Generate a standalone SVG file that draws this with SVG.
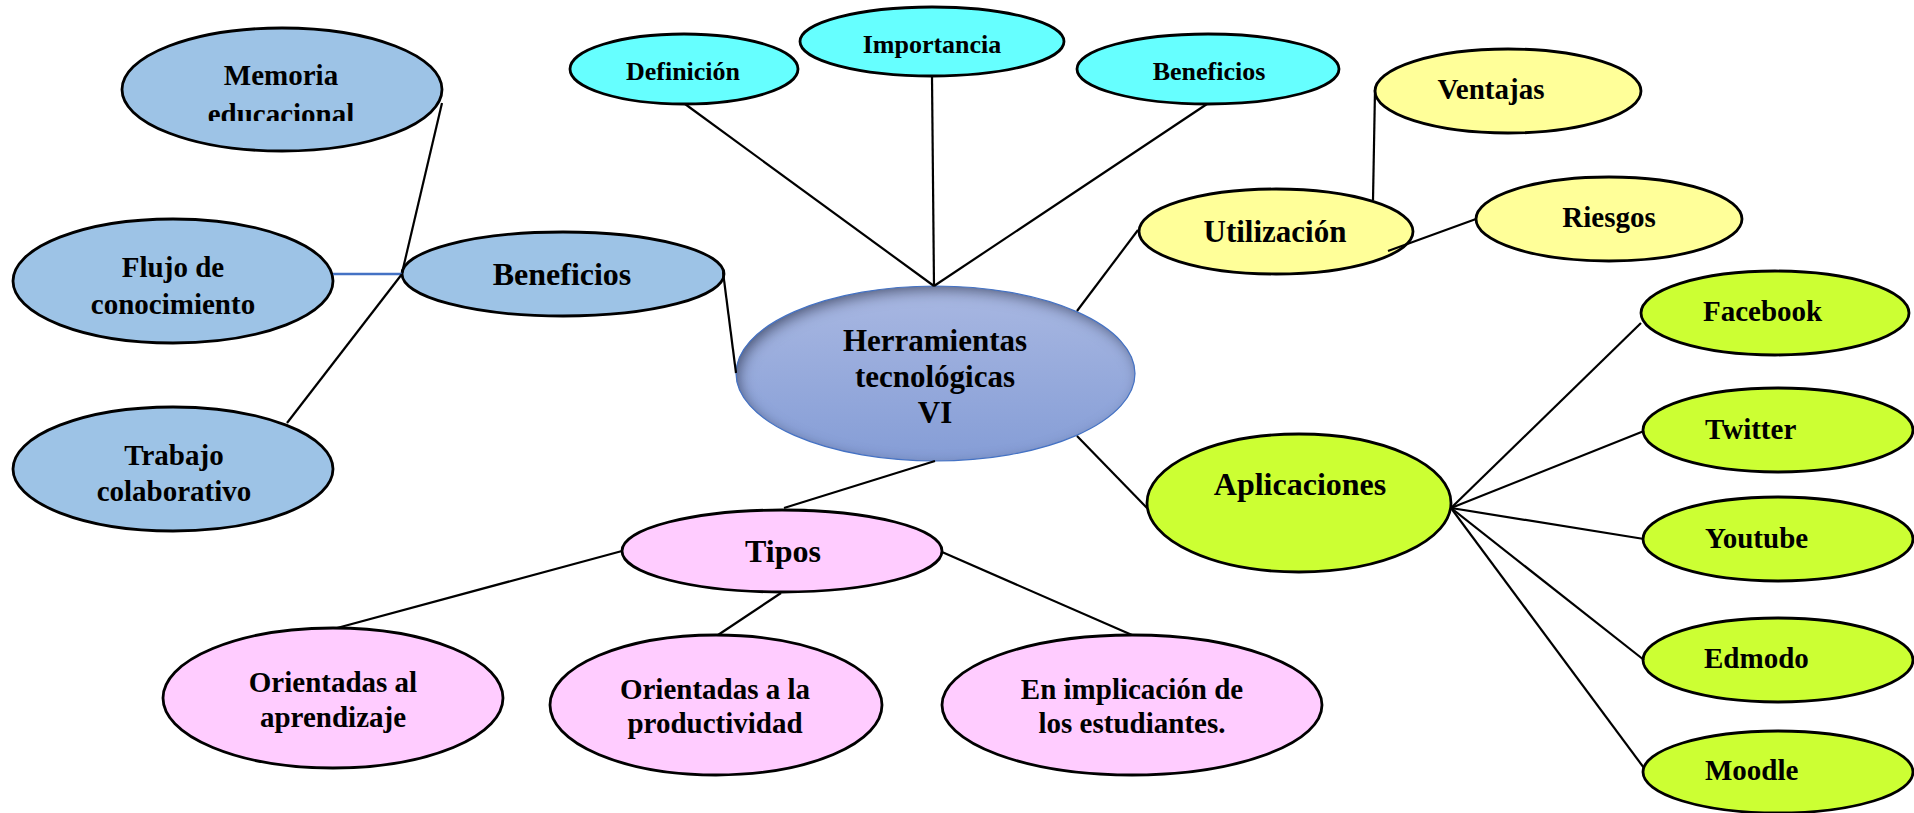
<svg xmlns="http://www.w3.org/2000/svg" width="1914" height="813" viewBox="0 0 1914 813">
<style>
.n{stroke:#000;stroke-width:2.8}
.blue{fill:#9DC3E6}
.cyan{fill:#66FFFF}
.yel{fill:#FFFF99}
.grn{fill:#CCFF33}
.pnk{fill:#FFCCFF}
text{font-family:"Liberation Serif","Times New Roman",serif;font-weight:bold;fill:#000;text-anchor:middle}
.f26{font-size:26px}
.f29{font-size:29px}
.f31{font-size:31px}
.f32{font-size:32px}
.l{text-anchor:start}
#connectors line{stroke:#000;stroke-width:2.2}
</style>
<defs>
<linearGradient id="cg" x1="0" y1="0" x2="0" y2="1">
<stop offset="0" stop-color="#A9B8E2"/>
<stop offset="1" stop-color="#859DD6"/>
</linearGradient>
<filter id="inset" x="-10%" y="-10%" width="120%" height="120%">
<feFlood flood-color="#1E2A50" flood-opacity="0.85" result="fl"/>
<feComposite in="fl" in2="SourceAlpha" operator="out" result="inv"/>
<feGaussianBlur in="inv" stdDeviation="7" result="bl"/>
<feOffset in="bl" dx="4" dy="5" result="of"/>
<feComposite in="of" in2="SourceAlpha" operator="in" result="sh"/>
<feMerge><feMergeNode in="SourceGraphic"/><feMergeNode in="sh"/></feMerge>
</filter>
<clipPath id="memclip"><rect x="100" y="20" width="360" height="101"/></clipPath>
</defs>
<rect width="1914" height="813" fill="#fff"/>
<g id="center">
<ellipse cx="935.5" cy="373.5" rx="199.5" ry="87.5" fill="url(#cg)" filter="url(#inset)"/>
<ellipse cx="935.5" cy="373.5" rx="199.5" ry="87.5" fill="none" stroke="#4472C4" stroke-width="1.2"/>
<text class="f31" x="935" y="351">Herramientas</text>
<text class="f31" x="935" y="387">tecnológicas</text>
<text class="f31" x="935" y="423">VI</text>
</g>
<g id="memoria">
<ellipse class="n blue" cx="282" cy="89.5" rx="160" ry="61.5"/>
<g clip-path="url(#memclip)">
<text class="f29" x="281" y="85">Memoria</text>
<text class="f29" x="281" y="124">educacional</text>
</g>
</g>
<g id="flujo">
<ellipse class="n blue" cx="173" cy="281" rx="160" ry="62"/>
<text class="f29" x="173" y="277">Flujo de</text>
<text class="f29" x="173" y="314">conocimiento</text>
</g>
<g id="trabajo">
<ellipse class="n blue" cx="173" cy="469" rx="160" ry="62"/>
<text class="f29" x="174" y="465">Trabajo</text>
<text class="f29" x="174" y="501">colaborativo</text>
</g>
<g id="beneficios-blue">
<ellipse class="n blue" cx="563" cy="274" rx="161" ry="42"/>
<text class="f32" x="562" y="285">Beneficios</text>
</g>
<g id="definicion">
<ellipse class="n cyan" cx="684" cy="69" rx="114" ry="35"/>
<text class="f26" x="683" y="80">Definición</text>
</g>
<g id="importancia">
<ellipse class="n cyan" cx="932" cy="41.5" rx="132" ry="34.5"/>
<text class="f26" x="932" y="53">Importancia</text>
</g>
<g id="beneficios-cyan">
<ellipse class="n cyan" cx="1208" cy="69" rx="131" ry="35"/>
<text class="f26" x="1209" y="80">Beneficios</text>
</g>
<g id="utilizacion">
<ellipse class="n yel" cx="1276" cy="231.5" rx="137" ry="42.5"/>
<text class="f31" x="1275" y="242">Utilización</text>
</g>
<g id="ventajas">
<ellipse class="n yel" cx="1508" cy="91" rx="133" ry="42"/>
<text class="f29" x="1491" y="99">Ventajas</text>
</g>
<g id="riesgos">
<ellipse class="n yel" cx="1609" cy="219" rx="133" ry="42"/>
<text class="f29" x="1609" y="227">Riesgos</text>
</g>
<g id="aplicaciones">
<ellipse class="n grn" cx="1299" cy="503" rx="152" ry="69"/>
<text class="f32" x="1300" y="495">Aplicaciones</text>
</g>
<g id="facebook">
<ellipse class="n grn" cx="1775" cy="313" rx="134" ry="42"/>
<text class="f29 l" x="1703" y="321">Facebook</text>
</g>
<g id="twitter">
<ellipse class="n grn" cx="1778" cy="430" rx="135" ry="42"/>
<text class="f29 l" x="1705" y="439">Twitter</text>
</g>
<g id="youtube">
<ellipse class="n grn" cx="1778" cy="539" rx="135" ry="42"/>
<text class="f29 l" x="1705" y="548">Youtube</text>
</g>
<g id="edmodo">
<ellipse class="n grn" cx="1778" cy="660" rx="135" ry="42"/>
<text class="f29 l" x="1704" y="668">Edmodo</text>
</g>
<g id="moodle">
<ellipse class="n grn" cx="1778" cy="772" rx="135" ry="41"/>
<text class="f29 l" x="1705" y="780">Moodle</text>
</g>
<g id="tipos">
<ellipse class="n pnk" cx="782" cy="551" rx="160" ry="41"/>
<text class="f32" x="783" y="562">Tipos</text>
</g>
<g id="orientadas-aprendizaje">
<ellipse class="n pnk" cx="333" cy="698" rx="170" ry="70"/>
<text class="f29" x="333" y="692">Orientadas al</text>
<text class="f29" x="333" y="727">aprendizaje</text>
</g>
<g id="orientadas-productividad">
<ellipse class="n pnk" cx="716" cy="705" rx="166" ry="70"/>
<text class="f29" x="715" y="699">Orientadas a la</text>
<text class="f29" x="715" y="733">productividad</text>
</g>
<g id="implicacion">
<ellipse class="n pnk" cx="1132" cy="705" rx="190" ry="70"/>
<text class="f29" x="1132" y="699">En implicación de</text>
<text class="f29" x="1132" y="733">los estudiantes.</text>
</g>
<g id="connectors">
<line x1="442" y1="103" x2="402" y2="273"/>
<line x1="333" y1="274" x2="402" y2="274" style="stroke:#4472C4;stroke-width:2.5"/>
<line x1="287" y1="423" x2="402" y2="274"/>
<line x1="723" y1="272" x2="736" y2="373"/>
<line x1="685" y1="104" x2="934" y2="286"/>
<line x1="932" y1="77" x2="934" y2="286"/>
<line x1="1207" y1="104" x2="934" y2="286"/>
<line x1="1077" y1="311" x2="1138" y2="230"/>
<line x1="1373" y1="200" x2="1375" y2="90"/>
<line x1="1388" y1="251" x2="1476" y2="219"/>
<line x1="1077" y1="436" x2="1147" y2="508"/>
<line x1="935" y1="461" x2="784" y2="508"/>
<line x1="1451" y1="508" x2="1641" y2="323"/>
<line x1="1451" y1="508" x2="1644" y2="431"/>
<line x1="1451" y1="508" x2="1644" y2="539"/>
<line x1="1451" y1="508" x2="1644" y2="660"/>
<line x1="1451" y1="508" x2="1644" y2="768"/>
<line x1="622" y1="551" x2="337" y2="628"/>
<line x1="781" y1="593" x2="718" y2="635"/>
<line x1="942" y1="552" x2="1132" y2="635"/>
</g>
</svg>
